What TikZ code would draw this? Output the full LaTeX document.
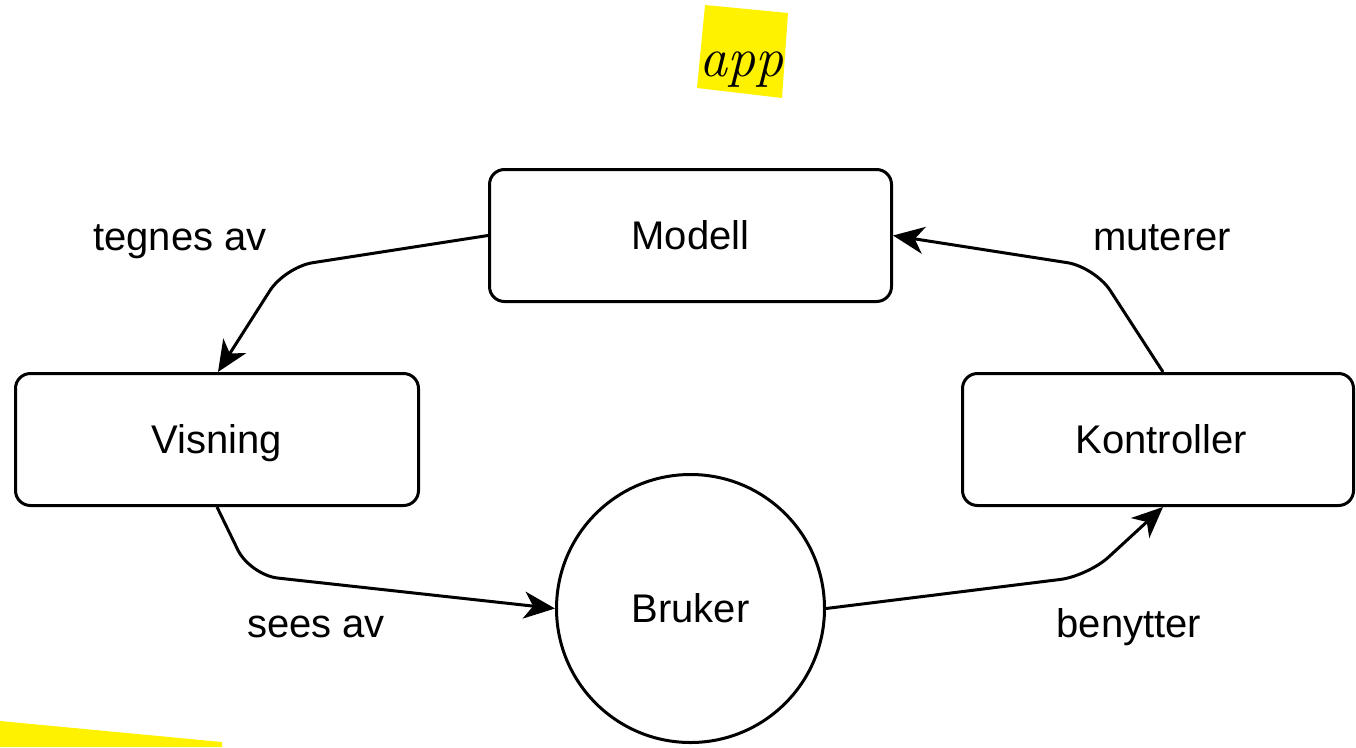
\documentclass[tikz,border=0pt]{standalone}
\usepackage{fontspec}
\newfontfamily\arialfont{Liberation Sans}
\usetikzlibrary{arrows.meta,calc}
\begin{document}
\begin{tikzpicture}[x=1pt,y=-1pt,
  txt/.style={font=\arialfont\fontsize{40}{48}\selectfont},
  box/.style={txt, draw, line width=3pt, rounded corners=15pt, minimum height=132pt, inner sep=0pt, text height=28.6pt, text depth=0pt},
  roundnode/.style={txt, draw, circle, line width=3pt, minimum size=268pt, inner sep=0pt, text height=28.6pt, text depth=0pt},
  conn/.style={line width=3pt, rounded corners=28pt, -{Stealth[length=31pt,width=27pt,inset=9pt]}},
  lbl/.style={txt, anchor=base, inner sep=0pt}]
\useasboundingbox (0,0) rectangle (1356,747);
% sticky notes
\fill[yellow] (705,5) -- (788,13) -- (782,98) -- (697,88) -- cycle;
\node[anchor=base, inner sep=0pt, font=\itshape\fontsize{56}{64}\selectfont] (app) at (741,76) {app};
\fill[yellow] (0,721) -- (222,742) -- (222,747) -- (0,747) -- cycle;
% nodes
\node[box, minimum width=402pt] (m) at (690.5,235.5) {Modell};
\node[box, minimum width=403pt] (v) at (217,439.5) {Visning};
\node[box, minimum width=391pt] (k) at (1158,439.5) {\hspace*{6pt}Kontroller};
\node[roundnode] (b) at (690.5,608.5) {Bruker};
% connectors
\draw[conn] (m.west) -- (285,267) -- ([xshift=1pt]v.north);
\draw[conn] ([xshift=5pt]k.north) -- (1095,267) -- (m.east);
\draw[conn] (v.south) -- (250,575) -- (b.west);
\draw[conn] (b.east) -- (1088,576) -- ([xshift=5pt]k.south);
% labels
\node[lbl] (l1) at (180,250) {tegnes av};
\node[lbl] (l2) at (1162,250) {muterer};
\node[lbl] (l3) at (316,637) {sees av};
\node[lbl] (l4) at (1129,637) {benytter};
\end{tikzpicture}
\end{document}
